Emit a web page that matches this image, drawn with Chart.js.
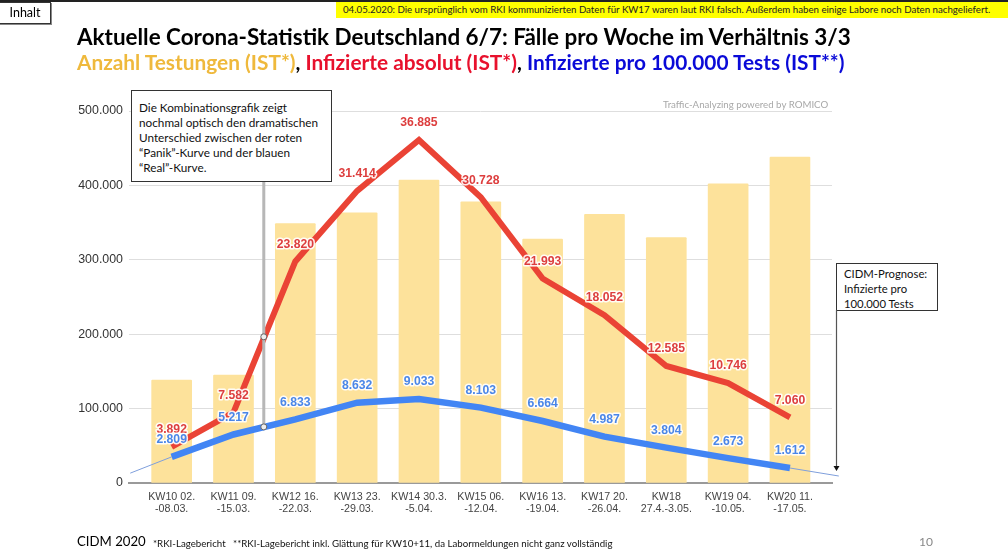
<!DOCTYPE html>
<html lang="de">
<head>
<meta charset="utf-8">
<title>Corona-Statistik</title>
<script src="https://cdn.jsdelivr.net/npm/chart.js@4"></script>
<style>
  html, body { margin: 0; padding: 0; background: #fff; }
  body { position: relative; width: 1008px; height: 557px; overflow: hidden; font-family: Lato, sans-serif; color: #000; }
  canvas { position: absolute; left: 0; top: 0; }
  .abs { position: absolute; white-space: nowrap; }
  #topline { left: 0; top: 0; width: 1008px; height: 2px; background: #222; }
  #inhalt { left: -1px; top: 2px; width: 50px; height: 20px; border: 1px solid #333; box-shadow: 1px 1px 0 #888; font-size: 12.5px; line-height: 20px; text-align: center; background: #fff; }
  #banner { left: 336px; top: 2px; width: 665px; height: 16px; padding-left: 7px; background: #ffff00; font-size: 9.7px; line-height: 15px; color: #222; }
  #title { left: 77px; top: 22px; font-size: 22.45px; font-weight: 700; line-height: 30px; }
  #subtitle { left: 77px; top: 47px; font-size: 20.85px; font-weight: 700; line-height: 30px; }
  .box { background: #fff; border: 1px solid #333; line-height: 15px; box-sizing: border-box; color: #111; }
  #note { left: 131px; top: 90px; width: 201px; height: 92px; padding: 9px 0 0 7px; font-size: 11.75px; }
  #prog { left: 836px; top: 263px; width: 102px; height: 48px; padding: 2px 0 0 7px; font-size: 11.3px; }
  #watermark { left: 663px; top: 98px; font-size: 9.7px; line-height: 12px; color: #a8a8a8; }
  #cidm { left: 77px; top: 532px; font-size: 13.2px; line-height: 18px; }
  #foot { left: 153px; top: 537px; font-size: 9.7px; line-height: 12px; color: #111; }
  #page { left: 919px; top: 534px; font-size: 12px; line-height: 15px; color: #888; }
  #arrow { position: absolute; left: 830px; top: 310px; }
</style>
</head>
<body>
<canvas id="chart" width="1008" height="557"></canvas>
<div class="abs" id="topline"></div>
<div class="abs" id="inhalt">Inhalt</div>
<div class="abs" id="banner">04.05.2020: Die ursprünglich vom RKI kommunizierten Daten für KW17 waren laut RKI falsch. Außerdem haben einige Labore noch Daten nachgeliefert.</div>
<div class="abs" id="title">Aktuelle Corona-Statistik Deutschland 6/7: Fälle pro Woche im Verhältnis 3/3</div>
<div class="abs" id="subtitle"><span style="color:#efb93c">Anzahl Testungen (IST*)</span>, <span style="color:#e8112d">Infizierte absolut (IST*)</span>, <span style="color:#0a0ad8">Infizierte pro 100.000 Tests (IST**)</span></div>
<div class="abs" id="watermark">Traffic-Analyzing powered by ROMICO</div>
<div class="abs box" id="note">Die Kombinationsgrafik zeigt<br>nochmal optisch den dramatischen<br>Unterschied zwischen der roten<br>“Panik”-Kurve und der blauen<br>“Real”-Kurve.</div>
<div class="abs box" id="prog">CIDM-Prognose:<br>Infizierte pro<br>100.000 Tests</div>
<svg id="arrow" width="14" height="164"><line x1="6.5" y1="0" x2="6.5" y2="158" stroke="#555" stroke-width="1.2"/><path d="M3.5 156 L9.5 156 L6.5 161 Z" fill="#111"/></svg>
<div class="abs" id="cidm">CIDM 2020</div>
<div class="abs" id="foot">*RKI-Lagebericht &nbsp; **RKI-Lagebericht inkl. Glättung für KW10+11, da Labormeldungen nicht ganz vollständig</div>
<div class="abs" id="page">10</div>

<script>
// Werte
const weekLabels = [
    ['KW10 02.', '-08.03.'], ['KW11 09.', '-15.03.'], ['KW12 16.', '-22.03.'],
    ['KW13 23.', '-29.03.'], ['KW14 30.3.', '-5.04.'], ['KW15 06.', '-12.04.'],
    ['KW16 13.', '-19.04.'], ['KW17 20.', '-26.04.'], ['KW18', '27.4.-3.05.'],
    ['KW19 04.', '-10.05.'], ['KW20 11.', '-17.05.']
];
const testCounts = [138500, 145000, 348600, 363000, 407000, 378000, 328000, 361000, 330000, 402000, 438000];
const infectedAbs = [3892, 7582, 23820, 31414, 36885, 30728, 21993, 18052, 12585, 10746, 7060];
const infectedPer100k = [2809, 5217, 6833, 8632, 9033, 8103, 6664, 4987, 3804, 2673, 1612];

// duenne Prognose-Linie links und rechts der blauen Kurve
const trendLeftX = [-0.67, 0];
const trendLeftY = [1060, 2809];
const trendRightX = [10, 10.79];
const trendRightY = [1612, 750];

// senkrechte Hilfslinie zwischen KW11 und KW12
const guideX = 1.49;
const guideY = [405000, 196500, 75400];

const asPoints = (xs, ys) => ys.map((y, i) => ({ x: xs[i], y: y }));
const byIndex = (ys) => ys.map((y, i) => ({ x: i, y: y }));

// Zahlen ueber den Kurven, mit weissem Rand
const pointLabelsPlugin = {
    id: 'pointLabels',
    afterDatasetsDraw(chart) {
        const { ctx } = chart;
        ctx.save();
        ctx.textAlign = 'center';
        ctx.textBaseline = 'middle';
        ctx.font = 'bold 12.2px "Liberation Sans", Arial, sans-serif';
        ctx.lineJoin = 'round';
        chart.data.datasets.forEach((dataset, i) => {
            if (!dataset.labelColor) return;
            chart.getDatasetMeta(i).data.forEach((pt, index) => {
                const text = dataset.data[index].y.toLocaleString('de-DE');
                ctx.strokeStyle = 'rgba(255,255,255,0.9)';
                ctx.lineWidth = 3;
                ctx.strokeText(text, pt.x, pt.y - 17);
                ctx.fillStyle = dataset.labelColor;
                ctx.fillText(text, pt.x, pt.y - 17);
            });
        });
        ctx.restore();
    }
};

new Chart(document.getElementById('chart').getContext('2d'), {
    type: 'bar',
    data: {
        datasets: [
            {
                type: 'bar',
                data: byIndex(testCounts),
                yAxisID: 'y',
                backgroundColor: '#fde29b',
                barThickness: 40,
                borderRadius: 1,
                order: 6
            },
            {
                type: 'line',
                data: asPoints(trendLeftX, trendLeftY),
                yAxisID: 'y2',
                borderColor: '#7f9fdc',
                borderWidth: 1,
                pointRadius: 0,
                clip: false,
                order: 5
            },
            {
                type: 'line',
                data: asPoints(trendRightX, trendRightY),
                yAxisID: 'y2',
                borderColor: '#7f9fdc',
                borderWidth: 1,
                pointRadius: 0,
                clip: false,
                order: 5
            },
            {
                type: 'line',
                data: byIndex(infectedAbs),
                yAxisID: 'y2',
                borderColor: '#ea4335',
                borderWidth: 6,
                pointRadius: 0,
                labelColor: '#dd3e3e',
                order: 3
            },
            {
                type: 'line',
                data: byIndex(infectedPer100k),
                yAxisID: 'y2',
                borderColor: '#4285f4',
                borderWidth: 6.5,
                pointRadius: 0,
                labelColor: '#4a86e8',
                order: 2
            },
            {
                type: 'line',
                data: guideY.map((y) => ({ x: guideX, y: y })),
                yAxisID: 'y',
                borderColor: '#b7b7b7',
                borderWidth: 3,
                pointRadius: [0, 3, 3],
                pointBackgroundColor: '#eeeeee',
                pointBorderColor: '#666666',
                pointBorderWidth: 1,
                order: 1
            }
        ]
    },
    plugins: [pointLabelsPlugin],
    options: {
        responsive: false,
        animation: false,
        events: [],
        parsing: { xAxisKey: 'x', yAxisKey: 'y' },
        layout: { padding: { top: 111, right: 176, left: 0, bottom: 0 } },
        scales: {
            x: {
                type: 'linear',
                offset: false,
                min: -0.69,
                max: 10.68,
                afterBuildTicks(scale) {
                    scale.ticks = weekLabels.map((_, i) => ({ value: i }));
                },
                afterFit(scale) { scale.height = 74; },
                grid: { display: false },
                border: { color: '#9a9a9a', width: 2 },
                ticks: {
                    autoSkip: false,
                    maxRotation: 0,
                    padding: 0,
                    color: '#444',
                    font: { family: '"Liberation Sans", Arial, sans-serif', size: 10.7, lineHeight: 1.12 },
                    callback: (value) => weekLabels[value]
                }
            },
            y: {
                min: 0,
                max: 500000,
                afterFit(scale) { scale.width = 129; },
                grid: { color: '#dedede', lineWidth: 1, drawTicks: false },
                border: { display: false },
                ticks: {
                    stepSize: 100000,
                    padding: 6,
                    color: '#333',
                    font: { family: '"Liberation Sans", Arial, sans-serif', size: 12.4 },
                    callback: (value) => value.toLocaleString('de-DE')
                }
            },
            // zweite Achse fuer die Kurven, nicht sichtbar
            y2: {
                display: false,
                min: 0,
                max: 40000
            }
        },
        plugins: {
            legend: { display: false },
            tooltip: { enabled: false }
        }
    }
});
</script>
</body>
</html>
